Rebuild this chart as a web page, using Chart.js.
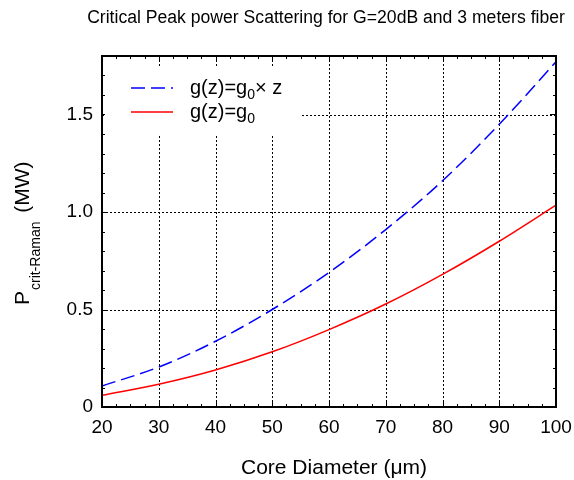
<!DOCTYPE html>
<html>
<head>
<meta charset="utf-8">
<script src="https://cdn.jsdelivr.net/npm/chart.js@4.4.1/dist/chart.umd.min.js"></script>
<style>
  html, body { margin: 0; padding: 0; background: #fff; }
  #wrap { width: 574px; height: 480px; position: relative; }
</style>
</head>
<body>
<div id="wrap"><canvas id="c" width="574" height="480"></canvas></div>
<script>
// ---- data ----
const titleText = 'Critical Peak power Scattering for G=20dB and 3 meters fiber';
const xTitle = 'Core Diameter (\u03BCm)';
const diameters = [20, 30, 40, 50, 60, 70, 80, 90, 100];
const powerLinearGain = [0.108, 0.205, 0.337, 0.50, 0.69, 0.91, 1.16, 1.45, 1.77];      // g(z)=g0 x z
const powerConstGain  = [0.060, 0.117, 0.190, 0.283, 0.397, 0.528, 0.680, 0.850, 1.035]; // g(z)=g0
const xMajorTicks = [20, 30, 40, 50, 60, 70, 80, 90, 100];
const yMajorTicks = [0, 0.5, 1.0, 1.5];
const yTickLabels = ['0', '0.5', '1.0', '1.5'];
const xMinorStep = 2.5;
const yMinorStep = 0.1;

const FONT = "'Liberation Sans', Arial, Helvetica, sans-serif";

function pts(xs, ys) { return xs.map((x, i) => ({ x: x, y: ys[i] })); }

const decorPlugin = {
  id: 'decor',
  beforeDatasetsDraw(chart) {
    const { ctx, chartArea: a, scales: { x, y } } = chart;
    ctx.save();
    ctx.strokeStyle = '#000';
    ctx.lineWidth = 1;
    ctx.setLineDash([2, 2]);
    xMajorTicks.forEach(v => {
      if (v === x.min || v === x.max) return;
      const px = Math.round(x.getPixelForValue(v)) + 0.5;
      ctx.beginPath(); ctx.moveTo(px, a.top); ctx.lineTo(px, a.bottom); ctx.stroke();
    });
    yMajorTicks.forEach(v => {
      if (v === y.min || v === y.max) return;
      const py = Math.round(y.getPixelForValue(v)) + 0.5;
      ctx.beginPath(); ctx.moveTo(a.left, py); ctx.lineTo(a.right, py); ctx.stroke();
    });
    ctx.restore();
  },
  afterDatasetsDraw(chart) {
    const { ctx, chartArea: a, scales: { x, y } } = chart;
    ctx.save();
    ctx.strokeStyle = '#000';
    ctx.setLineDash([]);
    ctx.lineWidth = 1;
    const majLen = 6, minLen = 3;
    for (let v = x.min; v <= x.max + 1e-9; v += xMinorStep) {
      const isMaj = xMajorTicks.some(t => Math.abs(t - v) < 1e-6);
      const len = isMaj ? majLen : minLen;
      const px = Math.round(x.getPixelForValue(v)) + 0.5;
      ctx.beginPath();
      ctx.moveTo(px, a.bottom); ctx.lineTo(px, a.bottom - len);
      ctx.moveTo(px, a.top); ctx.lineTo(px, a.top + len);
      ctx.stroke();
    }
    for (let v = y.min; v <= y.max + 1e-9; v += yMinorStep) {
      const isMaj = yMajorTicks.some(t => Math.abs(t - v) < 1e-6);
      const len = isMaj ? majLen : minLen;
      const py = Math.round(y.getPixelForValue(v)) + 0.5;
      ctx.beginPath();
      ctx.moveTo(a.left, py); ctx.lineTo(a.left + len, py);
      ctx.moveTo(a.right, py); ctx.lineTo(a.right - len, py);
      ctx.stroke();
    }
    ctx.lineWidth = 2;
    ctx.strokeRect(Math.round(a.left), Math.round(a.top), Math.round(a.right - a.left), Math.round(a.bottom - a.top));
    ctx.restore();
  },
  afterDraw(chart) {
    const { ctx, chartArea: a } = chart;
    ctx.save();
    ctx.fillStyle = '#000';
    ctx.font = '17.6px ' + FONT;
    ctx.textAlign = 'center';
    ctx.textBaseline = 'alphabetic';
    ctx.fillText(titleText, 326, 23);
    ctx.font = '21px ' + FONT;
    ctx.fillText(xTitle, 334, 474);
    ctx.save();
    ctx.translate(29, 305);
    ctx.rotate(-Math.PI / 2);
    ctx.textAlign = 'left';
    ctx.font = '21px ' + FONT;
    ctx.fillText('P', 0, 0);
    let w = ctx.measureText('P').width;
    ctx.font = '14px ' + FONT;
    ctx.fillText('crit-Raman', w + 1, 11);
    w += 1 + ctx.measureText('crit-Raman').width + 3;
    ctx.font = '21px ' + FONT;
    ctx.fillText(' (MW)', w, 0);
    ctx.restore();

    ctx.fillStyle = '#fff';
    ctx.fillRect(a.left + 3, 66, 196, 68);
    const ds = chart.data.datasets;
    const rows = [
      { y: 88, ds: ds[0], main: 'g(z)=g', sub: '0', tail: '\u00D7 z' },
      { y: 112, ds: ds[1], main: 'g(z)=g', sub: '0', tail: '' }
    ];
    rows.forEach(r => {
      ctx.strokeStyle = r.ds.borderColor;
      ctx.lineWidth = r.ds.borderWidth;
      ctx.setLineDash(r.ds.borderDash || []);
      ctx.beginPath(); ctx.moveTo(131, r.y); ctx.lineTo(173, r.y); ctx.stroke();
      ctx.setLineDash([]);
      ctx.fillStyle = '#000';
      ctx.textAlign = 'left';
      ctx.font = '20px ' + FONT;
      let tx = 190;
      ctx.fillText(r.main, tx, r.y + 6);
      tx += ctx.measureText(r.main).width;
      ctx.font = '14px ' + FONT;
      ctx.fillText(r.sub, tx, r.y + 11);
      tx += ctx.measureText(r.sub).width;
      if (r.tail) {
        ctx.font = '20px ' + FONT;
        ctx.fillText(r.tail, tx, r.y + 6);
      }
    });
    ctx.restore();
  }
};

new Chart(document.getElementById('c'), {
  type: 'line',
  data: {
    datasets: [
      {
        label: 'g(z)=g0\u00D7 z',
        data: pts(diameters, powerLinearGain),
        borderColor: '#0000ff',
        borderWidth: 1.5,
        borderDash: [14, 6],
        pointRadius: 0,
        fill: false,
        cubicInterpolationMode: 'monotone'
      },
      {
        label: 'g(z)=g0',
        data: pts(diameters, powerConstGain),
        borderColor: '#ff0000',
        borderWidth: 1.5,
        pointRadius: 0,
        fill: false,
        cubicInterpolationMode: 'monotone'
      }
    ]
  },
  options: {
    responsive: false,
    animation: false,
    events: [],
    layout: { padding: { top: 56, right: 18, bottom: 0, left: 0 } },
    plugins: { legend: { display: false }, title: { display: false }, tooltip: { enabled: false } },
    scales: {
      x: {
        type: 'linear', min: 20, max: 100,
        grid: { display: false, drawTicks: false },
        border: { display: false },
        afterBuildTicks(s) { s.ticks = xMajorTicks.map(v => ({ value: v })); },
        afterFit(s) { s.height = 73; s.paddingLeft = 0; s.paddingRight = 0; },
        ticks: {
          autoSkip: false, maxRotation: 0, padding: 9,
          color: '#000', font: { family: FONT, size: 19 },
          callback: v => String(v)
        }
      },
      y: {
        type: 'linear', min: 0, max: 1.8,
        grid: { display: false, drawTicks: false },
        border: { display: false },
        afterBuildTicks(s) { s.ticks = yMajorTicks.map(v => ({ value: v })); },
        afterFit(s) { s.width = 102; s.paddingTop = 0; s.paddingBottom = 0; },
        ticks: {
          autoSkip: false, padding: 9,
          color: '#000', font: { family: FONT, size: 19 },
          callback: (v) => yTickLabels[yMajorTicks.indexOf(v)]
        }
      }
    }
  },
  plugins: [decorPlugin]
});
</script>
</body>
</html>
